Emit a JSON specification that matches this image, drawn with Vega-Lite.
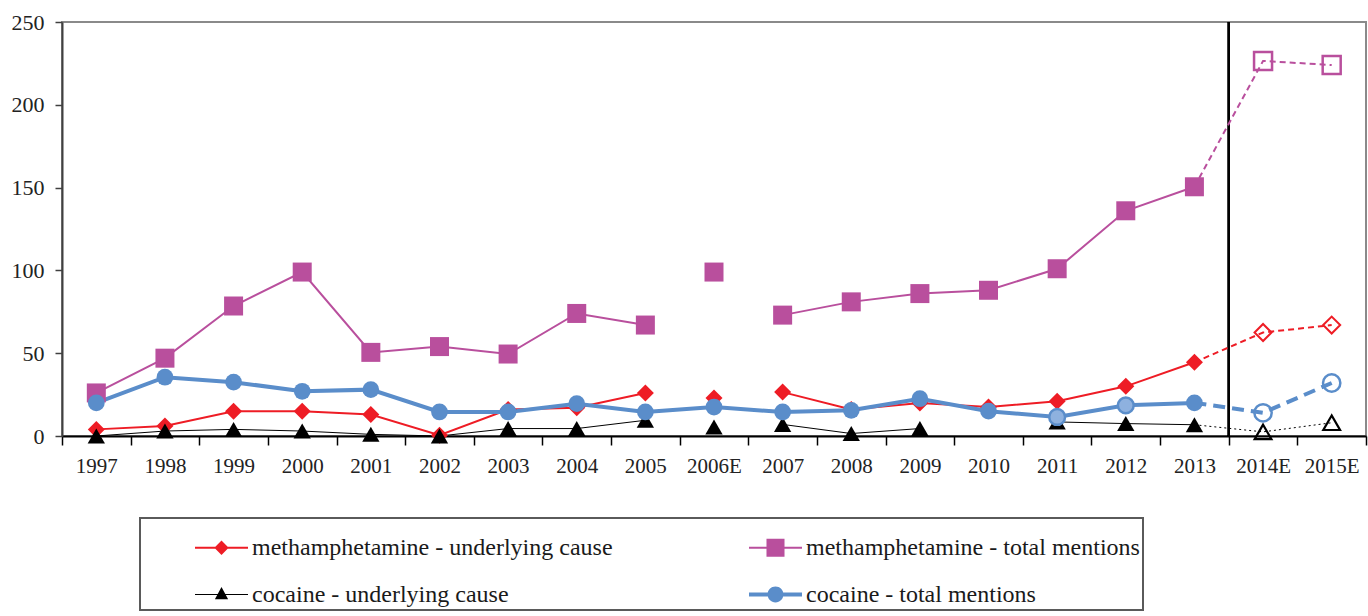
{
  "$schema": "https://vega.github.io/schema/vega-lite/v6.json",
  "width": 1304,
  "height": 414,
  "autosize": {"type": "none"},
  "padding": {"left": 62, "top": 22, "right": 2, "bottom": 180},
  "config": {
    "font": "Liberation Serif",
    "view": {"stroke": "#8a8a8a", "strokeWidth": 2},
    "legend": {"strokeWidth": 2, "labelFont": "Liberation Serif", "labelFontSize": 24, "symbolOpacity": 1}
  },
  "data": {
    "values": [
      {"series": "methamphetamine - underlying cause", "year": "1997", "value": 4, "seg": 1, "status": "actual"},
      {"series": "methamphetamine - underlying cause", "year": "1998", "value": 6, "seg": 1, "status": "actual"},
      {"series": "methamphetamine - underlying cause", "year": "1999", "value": 15, "seg": 1, "status": "actual"},
      {"series": "methamphetamine - underlying cause", "year": "2000", "value": 15, "seg": 1, "status": "actual"},
      {"series": "methamphetamine - underlying cause", "year": "2001", "value": 13, "seg": 1, "status": "actual"},
      {"series": "methamphetamine - underlying cause", "year": "2002", "value": 0.5, "seg": 1, "status": "actual"},
      {"series": "methamphetamine - underlying cause", "year": "2003", "value": 16, "seg": 1, "status": "actual"},
      {"series": "methamphetamine - underlying cause", "year": "2004", "value": 17, "seg": 1, "status": "actual"},
      {"series": "methamphetamine - underlying cause", "year": "2005", "value": 26, "seg": 1, "status": "actual"},
      {"series": "methamphetamine - underlying cause", "year": "2006E", "value": 23, "seg": 2, "status": "actual"},
      {"series": "methamphetamine - underlying cause", "year": "2007", "value": 26.5, "seg": 3, "status": "actual"},
      {"series": "methamphetamine - underlying cause", "year": "2008", "value": 16, "seg": 3, "status": "actual"},
      {"series": "methamphetamine - underlying cause", "year": "2009", "value": 20, "seg": 3, "status": "actual"},
      {"series": "methamphetamine - underlying cause", "year": "2010", "value": 17.5, "seg": 3, "status": "actual"},
      {"series": "methamphetamine - underlying cause", "year": "2011", "value": 21, "seg": 3, "status": "actual"},
      {"series": "methamphetamine - underlying cause", "year": "2012", "value": 30, "seg": 3, "status": "actual"},
      {"series": "methamphetamine - underlying cause", "year": "2013", "value": 44.5, "seg": 3, "status": "actual"},
      {"series": "methamphetamine - underlying cause", "year": "2014E", "value": 62.5, "seg": 3, "status": "estimate"},
      {"series": "methamphetamine - underlying cause", "year": "2015E", "value": 67, "seg": 3, "status": "estimate"},

      {"series": "methamphetamine - total mentions", "year": "1997", "value": 26, "seg": 1, "status": "actual"},
      {"series": "methamphetamine - total mentions", "year": "1998", "value": 47, "seg": 1, "status": "actual"},
      {"series": "methamphetamine - total mentions", "year": "1999", "value": 78.5, "seg": 1, "status": "actual"},
      {"series": "methamphetamine - total mentions", "year": "2000", "value": 99, "seg": 1, "status": "actual"},
      {"series": "methamphetamine - total mentions", "year": "2001", "value": 50.5, "seg": 1, "status": "actual"},
      {"series": "methamphetamine - total mentions", "year": "2002", "value": 54, "seg": 1, "status": "actual"},
      {"series": "methamphetamine - total mentions", "year": "2003", "value": 49.5, "seg": 1, "status": "actual"},
      {"series": "methamphetamine - total mentions", "year": "2004", "value": 74, "seg": 1, "status": "actual"},
      {"series": "methamphetamine - total mentions", "year": "2005", "value": 67, "seg": 1, "status": "actual"},
      {"series": "methamphetamine - total mentions", "year": "2006E", "value": 99, "seg": 2, "status": "actual"},
      {"series": "methamphetamine - total mentions", "year": "2007", "value": 73, "seg": 3, "status": "actual"},
      {"series": "methamphetamine - total mentions", "year": "2008", "value": 81, "seg": 3, "status": "actual"},
      {"series": "methamphetamine - total mentions", "year": "2009", "value": 86, "seg": 3, "status": "actual"},
      {"series": "methamphetamine - total mentions", "year": "2010", "value": 88, "seg": 3, "status": "actual"},
      {"series": "methamphetamine - total mentions", "year": "2011", "value": 101, "seg": 3, "status": "actual"},
      {"series": "methamphetamine - total mentions", "year": "2012", "value": 136, "seg": 3, "status": "actual"},
      {"series": "methamphetamine - total mentions", "year": "2013", "value": 150.5, "seg": 3, "status": "actual"},
      {"series": "methamphetamine - total mentions", "year": "2014E", "value": 226.5, "seg": 3, "status": "estimate"},
      {"series": "methamphetamine - total mentions", "year": "2015E", "value": 224, "seg": 3, "status": "estimate"},

      {"series": "cocaine - underlying cause", "year": "1997", "value": 0, "seg": 1, "status": "actual"},
      {"series": "cocaine - underlying cause", "year": "1998", "value": 3, "seg": 1, "status": "actual"},
      {"series": "cocaine - underlying cause", "year": "1999", "value": 4, "seg": 1, "status": "actual"},
      {"series": "cocaine - underlying cause", "year": "2000", "value": 3, "seg": 1, "status": "actual"},
      {"series": "cocaine - underlying cause", "year": "2001", "value": 1, "seg": 1, "status": "actual"},
      {"series": "cocaine - underlying cause", "year": "2002", "value": 0, "seg": 1, "status": "actual"},
      {"series": "cocaine - underlying cause", "year": "2003", "value": 4.5, "seg": 1, "status": "actual"},
      {"series": "cocaine - underlying cause", "year": "2004", "value": 4.5, "seg": 1, "status": "actual"},
      {"series": "cocaine - underlying cause", "year": "2005", "value": 9.5, "seg": 1, "status": "actual"},
      {"series": "cocaine - underlying cause", "year": "2006E", "value": 5.5, "seg": 2, "status": "actual"},
      {"series": "cocaine - underlying cause", "year": "2007", "value": 7, "seg": 3, "status": "actual"},
      {"series": "cocaine - underlying cause", "year": "2008", "value": 1.5, "seg": 3, "status": "actual"},
      {"series": "cocaine - underlying cause", "year": "2009", "value": 4.5, "seg": 3, "status": "actual"},
      {"series": "cocaine - underlying cause", "year": "2011", "value": 8.5, "seg": 4, "status": "actual"},
      {"series": "cocaine - underlying cause", "year": "2012", "value": 7.5, "seg": 4, "status": "actual"},
      {"series": "cocaine - underlying cause", "year": "2013", "value": 6.8, "seg": 4, "status": "actual"},
      {"series": "cocaine - underlying cause", "year": "2014E", "value": 2.5, "seg": 4, "status": "estimate"},
      {"series": "cocaine - underlying cause", "year": "2015E", "value": 8, "seg": 4, "status": "estimate"},

      {"series": "cocaine - total mentions", "year": "1997", "value": 20, "seg": 1, "status": "actual"},
      {"series": "cocaine - total mentions", "year": "1998", "value": 35.5, "seg": 1, "status": "actual"},
      {"series": "cocaine - total mentions", "year": "1999", "value": 32.5, "seg": 1, "status": "actual"},
      {"series": "cocaine - total mentions", "year": "2000", "value": 27, "seg": 1, "status": "actual"},
      {"series": "cocaine - total mentions", "year": "2001", "value": 28, "seg": 1, "status": "actual"},
      {"series": "cocaine - total mentions", "year": "2002", "value": 14.5, "seg": 1, "status": "actual"},
      {"series": "cocaine - total mentions", "year": "2003", "value": 14.5, "seg": 1, "status": "actual"},
      {"series": "cocaine - total mentions", "year": "2004", "value": 19.5, "seg": 1, "status": "actual"},
      {"series": "cocaine - total mentions", "year": "2005", "value": 14.5, "seg": 1, "status": "actual"},
      {"series": "cocaine - total mentions", "year": "2006E", "value": 17.5, "seg": 1, "status": "actual"},
      {"series": "cocaine - total mentions", "year": "2007", "value": 14.5, "seg": 1, "status": "actual"},
      {"series": "cocaine - total mentions", "year": "2008", "value": 15.5, "seg": 1, "status": "actual"},
      {"series": "cocaine - total mentions", "year": "2009", "value": 22.5, "seg": 1, "status": "actual"},
      {"series": "cocaine - total mentions", "year": "2010", "value": 15, "seg": 1, "status": "actual"},
      {"series": "cocaine - total mentions", "year": "2011", "value": 11.5, "seg": 1, "status": "light"},
      {"series": "cocaine - total mentions", "year": "2012", "value": 18.5, "seg": 1, "status": "light"},
      {"series": "cocaine - total mentions", "year": "2013", "value": 20, "seg": 1, "status": "actual"},
      {"series": "cocaine - total mentions", "year": "2014E", "value": 14, "seg": 1, "status": "estimate"},
      {"series": "cocaine - total mentions", "year": "2015E", "value": 32, "seg": 1, "status": "estimate"}
    ]
  },
  "encoding": {
    "x": {
      "field": "year", "type": "nominal", "sort": null,
      "scale": {"type": "band", "paddingInner": 0, "paddingOuter": 0,
        "domain": ["1997","1998","1999","2000","2001","2002","2003","2004","2005","2006E","2007","2008","2009","2010","2011","2012","2013","2014E","2015E"]},
      "axis": {"title": null, "labelAngle": 0, "tickBand": "extent", "tickSize": 9, "tickWidth": 1.5, "tickColor": "#000000",
        "domainColor": "#000000", "domainWidth": 2, "labelFont": "Liberation Serif", "labelFontSize": 21, "labelColor": "#222222", "labelPadding": 10}
    },
    "y": {
      "field": "value", "type": "quantitative",
      "scale": {"domain": [0, 250], "nice": false},
      "axis": {"title": null, "values": [0, 50, 100, 150, 200, 250], "grid": false, "tickSize": 7, "tickWidth": 1.5, "tickColor": "#404040",
        "domainColor": "#404040", "domainWidth": 2, "labelFont": "Liberation Serif", "labelFontSize": 22, "labelColor": "#222222", "labelPadding": 11}
    }
  },
  "layer": [
    {
      "mark": {"type": "rule", "color": "#000000", "strokeWidth": 1.5},
      "encoding": {"x": {"datum": "2014E", "type": "nominal", "bandPosition": 0}, "y": null}
    },
    {
      "transform": [{"filter": "datum.status !== 'estimate'"}],
      "mark": {"type": "line"},
      "encoding": {
        "detail": {"field": "seg", "type": "nominal"},
        "stroke": {"field": "series", "type": "nominal",
          "scale": {"domain": ["methamphetamine - total mentions", "methamphetamine - underlying cause", "cocaine - underlying cause", "cocaine - total mentions"],
            "range": ["#B94F9D", "#EE1C25", "#000000", "#5A8DCA"]},
          "legend": null},
        "strokeWidth": {"field": "series", "type": "nominal",
          "scale": {"type": "ordinal", "domain": ["methamphetamine - total mentions", "methamphetamine - underlying cause", "cocaine - underlying cause", "cocaine - total mentions"], "range": [2, 2, 1, 4]},
          "legend": null}
      }
    },
    {
      "transform": [{"filter": "indexof(['2013','2014E','2015E'], datum.year) >= 0"}],
      "mark": {"type": "line"},
      "encoding": {
        "stroke": {"field": "series", "type": "nominal",
          "scale": {"domain": ["methamphetamine - total mentions", "methamphetamine - underlying cause", "cocaine - underlying cause", "cocaine - total mentions"],
            "range": ["#B94F9D", "#EE1C25", "#000000", "#5A8DCA"]},
          "legend": null},
        "strokeWidth": {"field": "series", "type": "nominal",
          "scale": {"type": "ordinal", "domain": ["methamphetamine - total mentions", "methamphetamine - underlying cause", "cocaine - underlying cause", "cocaine - total mentions"], "range": [2, 2, 1, 4]},
          "legend": null},
        "strokeDash": {"field": "series", "type": "nominal",
          "scale": {"domain": ["methamphetamine - total mentions", "methamphetamine - underlying cause", "cocaine - underlying cause", "cocaine - total mentions"], "range": [[6, 4], [6, 4], [2, 3], [12, 7]]},
          "legend": null}
      }
    },
    {
      "transform": [{"filter": "datum.series === 'methamphetamine - total mentions' && datum.status !== 'estimate'"}],
      "mark": {"type": "point", "shape": "square", "size": 361, "filled": true, "opacity": 1, "strokeWidth": 0, "color": "#B94F9D"}
    },
    {
      "transform": [{"filter": "datum.series === 'methamphetamine - underlying cause' && datum.status !== 'estimate'"}],
      "mark": {"type": "point", "shape": "diamond", "size": 289, "filled": true, "opacity": 1, "strokeWidth": 0, "color": "#EE1C25"}
    },
    {
      "transform": [{"filter": "datum.series === 'cocaine - underlying cause' && datum.status !== 'estimate'"}],
      "mark": {"type": "point", "shape": "triangle-up", "size": 300, "filled": true, "opacity": 1, "strokeWidth": 0, "color": "#000000"}
    },
    {
      "transform": [{"filter": "datum.series === 'cocaine - total mentions' && datum.status === 'actual'"}],
      "mark": {"type": "point", "shape": "circle", "size": 280, "filled": true, "opacity": 1, "strokeWidth": 0, "color": "#5A8DCA"}
    },
    {
      "transform": [{"filter": "datum.series === 'cocaine - total mentions' && datum.status === 'light'"}],
      "mark": {"type": "point", "shape": "circle", "size": 250, "filled": true, "opacity": 1, "fill": "#8EB1DF", "stroke": "#5A8DCA", "strokeWidth": 2.5}
    },
    {
      "transform": [{"filter": "datum.series === 'methamphetamine - total mentions' && datum.status === 'estimate'"}],
      "mark": {"type": "point", "shape": "square", "size": 324, "filled": false, "opacity": 1, "strokeWidth": 2.5, "color": "#B94F9D"}
    },
    {
      "transform": [{"filter": "datum.series === 'methamphetamine - underlying cause' && datum.status === 'estimate'"}],
      "mark": {"type": "point", "shape": "diamond", "size": 289, "filled": false, "opacity": 1, "strokeWidth": 2, "color": "#EE1C25"}
    },
    {
      "transform": [{"filter": "datum.series === 'cocaine - underlying cause' && datum.status === 'estimate'"}],
      "mark": {"type": "point", "shape": "triangle-up", "size": 280, "filled": false, "opacity": 1, "strokeWidth": 2.2, "color": "#000000"}
    },
    {
      "transform": [{"filter": "datum.series === 'cocaine - total mentions' && datum.status === 'estimate'"}],
      "mark": {"type": "point", "shape": "circle", "size": 300, "filled": false, "opacity": 1, "strokeWidth": 2.5, "color": "#5A8DCA"}
    },
    {
      "transform": [{"filter": "datum.year === 'none'"}],
      "mark": {"type": "point", "filled": true, "opacity": 1, "strokeWidth": 0, "size": 2809},
      "encoding": {
        "color": {
          "field": "series", "type": "nominal",
          "scale": {"domain": ["methamphetamine - underlying cause", "methamphetamine - total mentions", "cocaine - underlying cause", "cocaine - total mentions"],
            "range": ["#EE1C25", "#B94F9D", "#000000", "#5A8DCA"]},
          "legend": {"title": " ", "titleOrient": "left", "titleFontSize": 1, "titlePadding": 52, "orient": "none", "legendX": 78, "legendY": 496,
            "direction": "horizontal", "columns": 2, "columnPadding": 136, "rowPadding": 8, "symbolSize": 2809, "symbolStrokeWidth": 0, "symbolOpacity": 1,
            "labelFont": "Liberation Serif", "labelFontSize": 24, "labelColor": "#1a1a1a", "labelOffset": 4, "labelLimit": 0,
            "strokeColor": "#5a5a5a", "padding": 3,
            "encode": {"labels": {"update": {"font": {"value": "Liberation Serif"}}}}}
        },
        "shape": {
          "field": "series", "type": "nominal",
          "scale": {"domain": ["methamphetamine - underlying cause", "methamphetamine - total mentions", "cocaine - underlying cause", "cocaine - total mentions"],
            "range": [
              "M-1,-0.04H1V0.04H-1Z M0,-0.27L0.27,0L0,0.27L-0.27,0Z",
              "M-1,-0.04H1V0.04H-1Z M-0.34,-0.34H0.34V0.34H-0.34Z",
              "M-1,-0.02H1V0.02H-1Z M0,-0.28L0.25,0.18L-0.25,0.18Z",
              "M-1,-0.075H1V0.075H-1Z M-0.3,0A0.3,0.3 0 1,1 0.3,0A0.3,0.3 0 1,1 -0.3,0Z"
            ]},
          "legend": {"title": " ", "titleOrient": "left", "titleFontSize": 1, "titlePadding": 52, "orient": "none", "legendX": 78, "legendY": 496,
            "direction": "horizontal", "columns": 2, "columnPadding": 136, "rowPadding": 8, "symbolSize": 2809, "symbolStrokeWidth": 0, "symbolOpacity": 1,
            "labelFont": "Liberation Serif", "labelFontSize": 24, "labelColor": "#1a1a1a", "labelOffset": 4, "labelLimit": 0,
            "strokeColor": "#5a5a5a", "padding": 3,
            "encode": {"labels": {"update": {"font": {"value": "Liberation Serif"}}}}}
        }
      }
    }
  ]
}
